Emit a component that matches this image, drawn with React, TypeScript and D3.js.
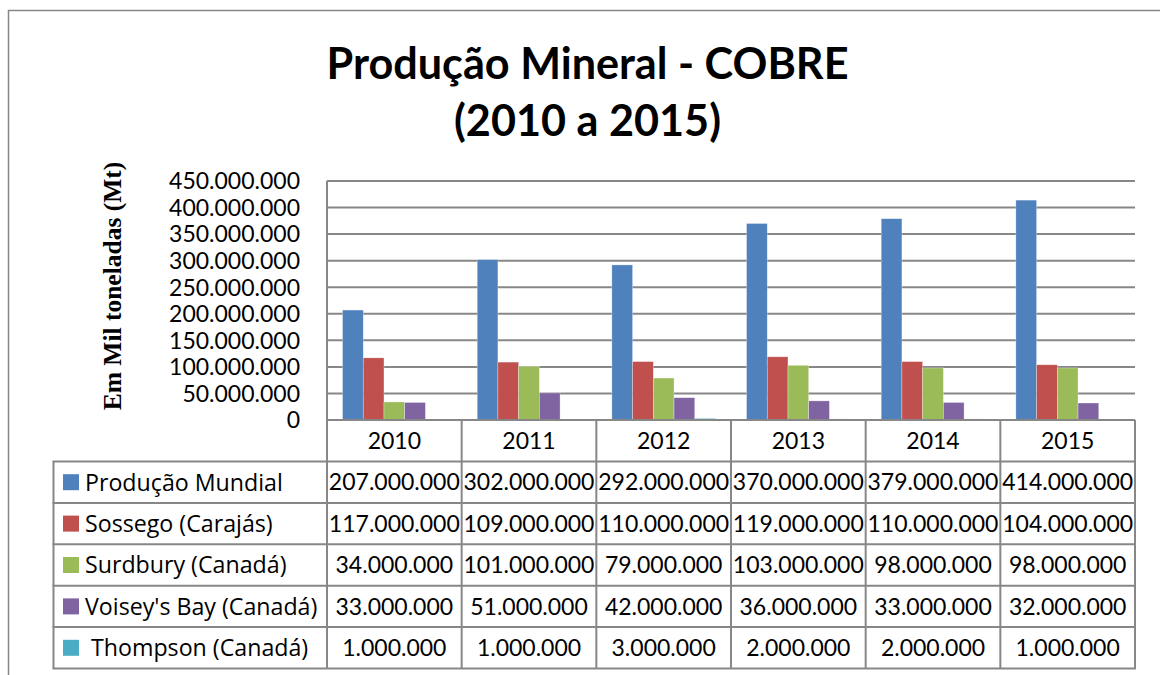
import React from 'react';
import * as d3 from 'd3';

const categories = ['2010', '2011', '2012', '2013', '2014', '2015'];
const seriesNames = [
  'Produção Mundial',
  'Sossego (Carajás)',
  'Surdbury (Canadá)',
  "Voisey's Bay (Canadá)",
  ' Thompson (Canadá)',
];
const producaoMundial = [207000000, 302000000, 292000000, 370000000, 379000000, 414000000];
const sossego = [117000000, 109000000, 110000000, 119000000, 110000000, 104000000];
const surdbury = [34000000, 101000000, 79000000, 103000000, 98000000, 98000000];
const voiseysBay = [33000000, 51000000, 42000000, 36000000, 33000000, 32000000];
const thompson = [1000000, 1000000, 3000000, 2000000, 2000000, 1000000];
const yTicks = [0, 50000000, 100000000, 150000000, 200000000, 250000000, 300000000, 350000000, 400000000, 450000000];
const colors = ['#4F81BD', '#C0504D', '#9BBB59', '#8064A2', '#4BACC6'];

const seriesValues = [producaoMundial, sossego, surdbury, voiseysBay, thompson];

const W = 1160;
const H = 675;
const plotL = 327;
const plotR = 1135;
const plotT = 181;
const plotB = 420;
const headerB = 461.5;
const rowH = 41.4;
const legendL = 53.5;
const gridColor = '#878787';
const sans = 'Lato, "Open Sans", sans-serif';
const legendFont = '"Open Sans", Lato, sans-serif';

const fmt = d3.formatLocale({ decimal: ',', thousands: '.', grouping: [3], currency: ['', ''] }).format(',');

export default function App() {
  const x = d3.scaleBand<string>().domain(categories).range([plotL, plotR]).paddingInner(0).paddingOuter(0);
  // bar width so that the gap between groups is 150% of a bar width
  const bw = x.bandwidth() / (seriesNames.length + 1.5);
  const off = bw * 0.75;
  const y = d3.scaleLinear().domain([0, 450000000]).range([plotB, plotT]);

  const tableBottom = headerB + rowH * seriesNames.length;

  return (
    <div style={{ position: 'absolute', left: 0, top: 0 }}>
      <svg width={W} height={H} xmlns="http://www.w3.org/2000/svg" style={{ display: 'block', background: '#fff' }}>
        <rect x={0} y={0} width={W} height={H} fill="#fff" />
        {/* outer chart border */}
        <rect x={8.5} y={10.5} width={W + 10} height={H + 10} fill="none" stroke={gridColor} strokeWidth={1.5} />

        {/* title */}
        <text x={587.5} y={79} textAnchor="middle" fontFamily={sans} fontWeight={700} fontSize={43.2} fill="#000">
          Produção Mineral - COBRE
        </text>
        <text x={587.5} y={136} textAnchor="middle" fontFamily={sans} fontWeight={700} fontSize={43.2} fill="#000">
          (2010 a 2015)
        </text>

        {/* y axis title */}
        <text
          transform={`translate(121,${(160 + 412) / 2}) rotate(-90)`}
          textAnchor="middle"
          fontFamily='"Liberation Serif", "Times New Roman", serif'
          fontWeight={700}
          fontSize={25.5}
          fill="#000"
        >
          Em Mil toneladas (Mt)
        </text>

        {/* gridlines */}
        {yTicks.map((t) => (
          <line key={'g' + t} x1={plotL} x2={plotR} y1={y(t)} y2={y(t)} stroke={gridColor} strokeWidth={2} />
        ))}
        {/* y tick labels */}
        {yTicks.map((t) => (
          <text
            key={'t' + t}
            x={300}
            y={y(t)}
            dy="0.36em"
            textAnchor="end"
            fontFamily={sans}
            fontSize={23}
            fill="#000"
          >
            {fmt(t)}
          </text>
        ))}

        {/* bars */}
        {categories.map((c, ci) => (
          <g key={'c' + c}>
            {seriesValues.map((vals, si) => {
              const v = vals[ci];
              const bx = (x(c) as number) + off + si * bw;
              return (
                <rect
                  key={'b' + si}
                  x={bx}
                  y={y(v)}
                  width={bw}
                  height={plotB - y(v)}
                  fill={colors[si]}
                  stroke="#ffffff"
                  strokeOpacity={0.5}
                  strokeWidth={0.6}
                />
              );
            })}
          </g>
        ))}

        {/* axis lines */}
        <line x1={plotL} x2={plotR} y1={plotB} y2={plotB} stroke={gridColor} strokeWidth={2} />
        <line x1={plotL} x2={plotL} y1={plotT} y2={tableBottom} stroke={gridColor} strokeWidth={2} />

        {/* table: header row */}
        {categories.map((c) => (
          <text
            key={'h' + c}
            x={(x(c) as number) + x.bandwidth() / 2}
            y={(plotB + headerB) / 2}
            dy="0.36em"
            textAnchor="middle"
            fontFamily={sans}
            fontSize={23}
            fill="#000"
          >
            {c}
          </text>
        ))}
        {/* vertical lines */}
        {categories.map((c) => (
          <line
            key={'v' + c}
            x1={(x(c) as number) + x.bandwidth()}
            x2={(x(c) as number) + x.bandwidth()}
            y1={plotB}
            y2={tableBottom}
            stroke={gridColor}
            strokeWidth={2}
          />
        ))}
        <line x1={legendL} x2={legendL} y1={headerB} y2={tableBottom} stroke={gridColor} strokeWidth={2} />
        {/* horizontal lines */}
        {d3.range(seriesNames.length + 1).map((i) => (
          <line
            key={'hl' + i}
            x1={legendL - 1}
            x2={plotR + 1}
            y1={headerB + i * rowH}
            y2={headerB + i * rowH}
            stroke={gridColor}
            strokeWidth={2}
          />
        ))}
        {/* rows */}
        {seriesNames.map((name, si) => {
          const cy = headerB + si * rowH + rowH / 2;
          return (
            <g key={'r' + si}>
              <rect x={63} y={cy - 8} width={16} height={16} fill={colors[si]} />
              <text x={85} y={cy} dy="0.36em" fontFamily={legendFont} fontSize={23.2} fill="#000" style={{ whiteSpace: 'pre' }}>
                {name}
              </text>
              {categories.map((c, ci) => (
                <text
                  key={'cv' + ci}
                  x={(x(c) as number) + x.bandwidth() / 2}
                  y={cy}
                  dy="0.36em"
                  textAnchor="middle"
                  fontFamily={sans}
                  fontSize={23}
                  fill="#000"
                >
                  {fmt(seriesValues[si][ci])}
                </text>
              ))}
            </g>
          );
        })}
      </svg>
    </div>
  );
}
